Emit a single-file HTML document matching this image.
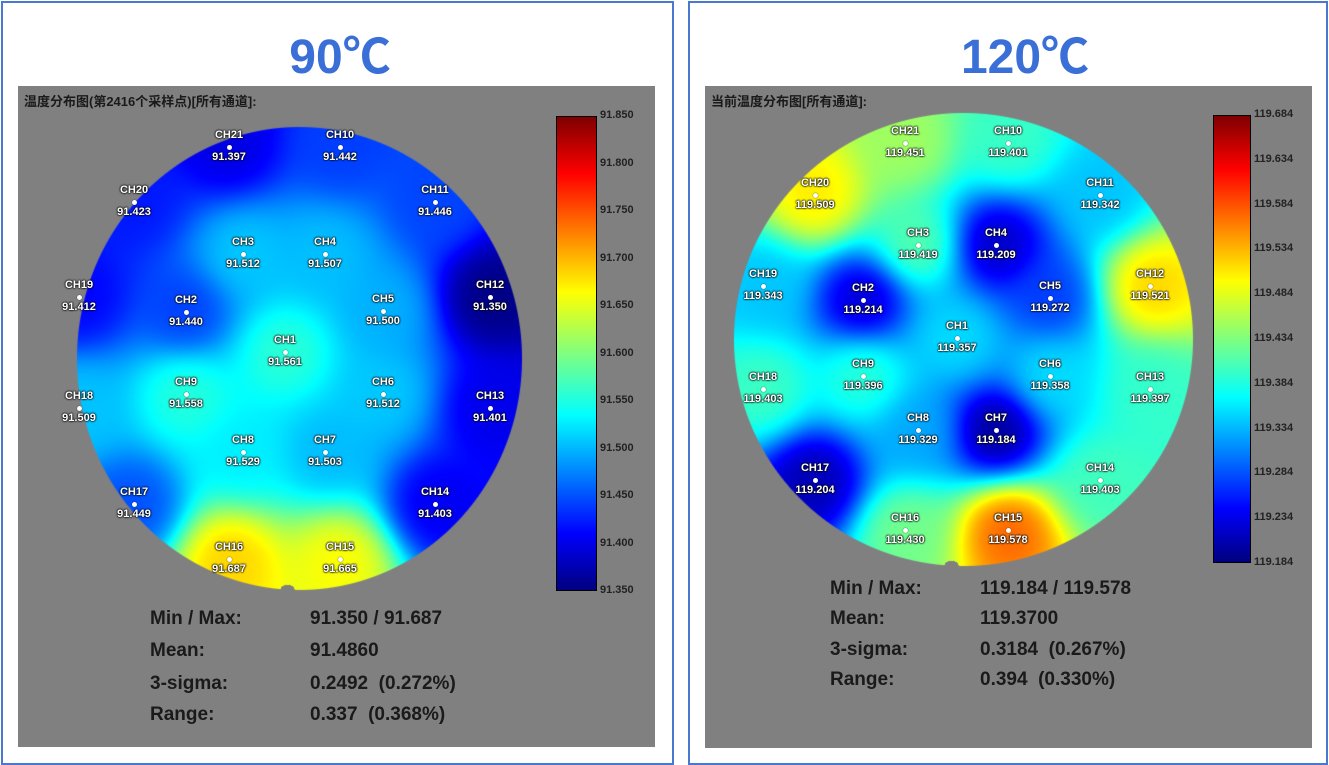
<!DOCTYPE html>
<html><head><meta charset="utf-8"><style>
body{margin:0;width:1329px;height:765px;background:#fff;position:relative;overflow:hidden;font-family:"Liberation Sans","Noto Sans CJK SC",sans-serif}
.panel{position:absolute;border:2px solid #4a78d0;box-sizing:border-box}
.gray{position:absolute;background:#808080}
.title{position:absolute;color:#3a6fd8;font-weight:bold;font-size:48px;text-align:center}
.hdr{position:absolute;font-size:13px;font-weight:bold;color:#1a1a1a}
canvas{position:absolute;left:0;top:0}
.lab{position:absolute;color:#fff;font-size:11px;font-weight:bold;text-align:center;width:60px;margin-left:-30px;text-shadow:0 0 2px #000,0 0 2px #000,0 0 1px #000;line-height:11px}
.dot{position:absolute;width:5px;height:5px;border-radius:50%;background:#fff;margin:-2.5px 0 0 -2.5px;box-shadow:0 0 1px #000}
.cb{position:absolute;border:1px solid #000;box-sizing:border-box;background:linear-gradient(to top,#00007f,#0000ff 12%,#00ffff 37%,#ffff00 63%,#ff0000 88%,#7f0000)}
.tk{position:absolute;font-size:11px;font-weight:bold;color:#222;line-height:11px}
.st{position:absolute;font-size:19px;font-weight:bold;color:#1a1a1a;white-space:pre}
</style></head><body>
<div class="panel" style="left:1px;top:1px;width:673px;height:764px"></div>
<div class="panel" style="left:688px;top:1px;width:640px;height:764px"></div>
<div class="title" style="left:240px;top:17px;width:200px">90℃</div>
<div class="title" style="left:925px;top:17px;width:200px">120℃</div>
<div class="gray" style="left:18px;top:86px;width:637px;height:661px"></div>
<div class="gray" style="left:705px;top:86px;width:607px;height:662px"></div>
<div class="hdr" style="left:24px;top:91px">温度分布图(第2416个采样点)[所有通道]:</div>
<div class="hdr" style="left:711px;top:91px">当前温度分布图[所有通道]:</div>
<canvas id="c" width="1329" height="765"></canvas>
<div id="o"></div>
<div class="cb" style="left:556px;top:116px;width:41px;height:475px"></div>
<div class="cb" style="left:1213px;top:115px;width:38px;height:448px"></div>
<div class="st" style="left:150px;top:608px">Min / Max:</div><div class="st" style="left:310px;top:608px">91.350 / 91.687</div>
<div class="st" style="left:150px;top:640px">Mean:</div><div class="st" style="left:310px;top:640px">91.4860</div>
<div class="st" style="left:150px;top:673px">3-sigma:</div><div class="st" style="left:310px;top:673px">0.2492  (0.272%)</div>
<div class="st" style="left:150px;top:704px">Range:</div><div class="st" style="left:310px;top:704px">0.337  (0.368%)</div>
<div class="st" style="left:830px;top:578px">Min / Max:</div><div class="st" style="left:980px;top:578px">119.184 / 119.578</div>
<div class="st" style="left:830px;top:608px">Mean:</div><div class="st" style="left:980px;top:608px">119.3700</div>
<div class="st" style="left:830px;top:639px">3-sigma:</div><div class="st" style="left:980px;top:639px">0.3184  (0.267%)</div>
<div class="st" style="left:830px;top:669px">Range:</div><div class="st" style="left:980px;top:669px">0.394  (0.330%)</div>
<script>
var L={cx:299,cy:358,rx:223,ry:232,min:91.35,max:91.85,p:[
["CH21",229,147,91.397],["CH10",340,147,91.442],["CH20",134,202,91.423],["CH11",435,202,91.446],["CH3",243,254,91.512],["CH4",325,254,91.507],["CH19",79,297,91.412],["CH12",490,297,91.350],["CH2",186,312,91.440],["CH5",383,311,91.500],["CH1",285,352,91.561],["CH18",79,408,91.509],["CH9",186,394,91.558],["CH6",383,394,91.512],["CH13",490,408,91.401],["CH8",243,452,91.529],["CH7",325,452,91.503],["CH17",134,504,91.449],["CH14",435,504,91.403],["CH16",229,559,91.687],["CH15",340,559,91.665]],
cb:[597,116,475,["91.850","91.800","91.750","91.700","91.650","91.600","91.550","91.500","91.450","91.400","91.350"]]};
var R={cx:963,cy:339,rx:230,ry:227,min:119.184,max:119.684,p:[
["CH21",905,143,119.451],["CH10",1008,143,119.401],["CH20",815,195,119.509],["CH11",1100,195,119.342],["CH3",918,245,119.419],["CH4",996,245,119.209],["CH19",763,286,119.343],["CH12",1150,286,119.521],["CH2",863,300,119.214],["CH5",1050,298,119.272],["CH1",957,338,119.357],["CH18",763,389,119.403],["CH9",863,376,119.396],["CH6",1050,376,119.358],["CH13",1150,389,119.397],["CH8",918,430,119.329],["CH7",996,430,119.184],["CH17",815,480,119.204],["CH14",1100,480,119.403],["CH16",905,530,119.430],["CH15",1008,530,119.578]],
cb:[1251,115,448,["119.684","119.634","119.584","119.534","119.484","119.434","119.384","119.334","119.284","119.234","119.184"]]};
function jet(t){t=Math.max(0,Math.min(1,t));var r=Math.min(4*t-1.5,-4*t+4.5),g=Math.min(4*t-0.5,-4*t+3.5),b=Math.min(4*t+0.5,-4*t+2.5);
return [255*Math.max(0,Math.min(1,r)),255*Math.max(0,Math.min(1,g)),255*Math.max(0,Math.min(1,b))];}
var ctx=document.getElementById('c').getContext('2d');var o=document.getElementById('o'),h='';
[L,R].forEach(function(M){
 var x0=M.cx-M.rx,y0=M.cy-M.ry,w=2*M.rx,hh=2*M.ry;var img=ctx.createImageData(w,hh);
 for(var y=0;y<hh;y++)for(var x=0;x<w;x++){var px=x0+x,py=y0+y;var dx=(px-M.cx)/M.rx,dy=(py-M.cy)/M.ry;var d2=dx*dx+dy*dy;if(d2>1)continue;
  if(py>M.cy+M.ry-6&&Math.hypot(px-M.cx+12,py-(M.cy+M.ry+2))<8)continue;
  var sw=0,sv=0;for(var i=0;i<M.p.length;i++){var q=M.p[i];var e=(px-q[1])*(px-q[1])+(py-q[2])*(py-q[2])+1200;var wt=1/(e*e);sw+=wt;sv+=wt*q[3];}
  var c=jet((sv/sw-M.min)/(M.max-M.min)),k=(y*w+x)*4;img.data[k]=c[0];img.data[k+1]=c[1];img.data[k+2]=c[2];
  var a=Math.min(1,(1-Math.sqrt(d2))*M.rx);img.data[k+3]=255*Math.max(0,a);}
 ctx.putImageData(img,x0,y0);
 M.p.forEach(function(q){h+='<div class="dot" style="left:'+q[1]+'px;top:'+q[2]+'px"></div><div class="lab" style="left:'+q[1]+'px;top:'+(q[2]-17)+'px">'+q[0]+'</div><div class="lab" style="left:'+q[1]+'px;top:'+(q[2]+5)+'px">'+q[3].toFixed(3)+'</div>';});
 var cb=M.cb;cb[3].forEach(function(s,i){var y=cb[1]+cb[2]*i/10;h+='<div class="tk" style="left:'+(cb[0]+3)+'px;top:'+(y-6)+'px">'+s+'</div>';});
});
o.innerHTML=h;
</script>
</body></html>
